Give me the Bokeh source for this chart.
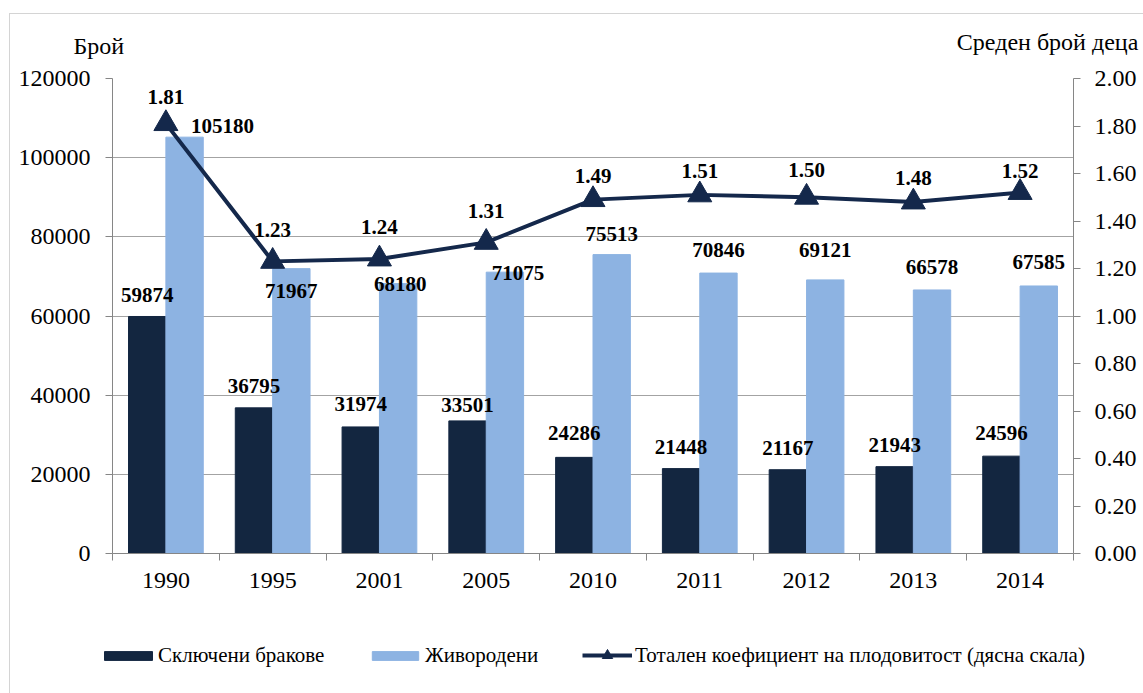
from bokeh.plotting import figure
from bokeh.layouts import column
from bokeh.models import (Range1d, LinearAxis, FixedTicker, ColumnDataSource, Legend,
                          LegendItem, Label, NumeralTickFormatter)
from bokeh.core.properties import value
from bokeh.embed import file_html
from bokeh.resources import INLINE

# ---------------- data ----------------
years = ["1990", "1995", "2001", "2005", "2010", "2011", "2012", "2013", "2014"]
marriages = [59874, 36795, 31974, 33501, 24286, 21448, 21167, 21943, 24596]
births = [105180, 71967, 68180, 71075, 75513, 70846, 69121, 66578, 67585]
tfr = [1.81, 1.23, 1.24, 1.31, 1.49, 1.51, 1.50, 1.48, 1.52]

left_ticks = [0, 20000, 40000, 60000, 80000, 100000, 120000]
right_ticks = [0.0, 0.2, 0.4, 0.6, 0.8, 1.0, 1.2, 1.4, 1.6, 1.8, 2.0]

series_names = ["Сключени бракове", "Живородени",
                "Тотален коефициент на плодовитост (дясна скала)"]

# ---------------- label placement (screen px) ----------------
marr_dy = [-14, -15, -16, -9, -17, -15, -15, -15, -16]
birth_dx = [38, 0, 2, 13, 0, 0, 0, 0, 0]
birth_dy = [-4, 29, 7, 8, -14, -16, -23, -16, -17]
tfr_dy = [-20, -24, -25, -24, -17, -17, -20, -17, -15]
SHIFT = -7

FONT = value("Liberation Serif")
DARK = "#132640"
LIGHT = "#8db3e2"
LINE = "#14284b"
AXIS = "#868686"
GRID = "#a3a3a3"

n = len(years)
centers = [i + 0.5 for i in range(n)]
bw = 0.35
dark_x = [c - bw / 2 for c in centers]
light_x = [c + bw / 2 for c in centers]

src = ColumnDataSource(dict(
    c=centers, dx=dark_x, lx=light_x,
    marriages=marriages, births=births, tfr=tfr,
    marr_txt=[str(v) for v in marriages],
    birth_txt=[str(v) for v in births],
    tfr_txt=["%.2f" % v for v in tfr],
    marr_dy=[d + SHIFT for d in marr_dy],
    birth_dx=birth_dx,
    birth_dy=[d + SHIFT for d in birth_dy],
    tfr_dy=[d + SHIFT for d in tfr_dy],
))

p = figure(width=1133, height=599, x_range=Range1d(0, n), y_range=Range1d(0, 120000),
           output_backend="svg", toolbar_location=None,
           min_border_left=102, min_border_right=70, min_border_top=64, min_border_bottom=60)
p.outline_line_color = None
p.background_fill_color = "white"
p.border_fill_color = "white"

p.extra_y_ranges = {"tfr": Range1d(0, 2.0)}

# x axis
xa = p.xaxis[0]
xa.ticker = FixedTicker(ticks=centers, minor_ticks=list(range(n + 1)))
xa.major_label_overrides = {c: y for c, y in zip(centers, years)}
xa.major_tick_out = 0
xa.major_tick_in = 0
xa.minor_tick_out = 7
xa.minor_tick_in = 0
xa.minor_tick_line_color = AXIS
xa.axis_line_color = AXIS
xa.major_label_text_font = "Liberation Serif"
xa.major_label_text_font_size = "24px"
xa.major_label_text_color = "black"
xa.major_label_standoff = 12

# left y axis
ya = p.yaxis[0]
ya.ticker = FixedTicker(ticks=left_ticks, minor_ticks=[])
ya.formatter = NumeralTickFormatter(format="0")
ya.major_tick_out = 7
ya.major_tick_in = 0
ya.minor_tick_out = 0
ya.minor_tick_in = 0
ya.major_tick_line_color = AXIS
ya.axis_line_color = AXIS
ya.major_label_text_font = "Liberation Serif"
ya.major_label_text_font_size = "24px"
ya.major_label_text_color = "black"
ya.major_label_standoff = 15

# right y axis
ra = LinearAxis(y_range_name="tfr", ticker=FixedTicker(ticks=right_ticks, minor_ticks=[]),
                formatter=NumeralTickFormatter(format="0.00"))
ra.major_tick_out = 7
ra.major_tick_in = 0
ra.minor_tick_out = 0
ra.minor_tick_in = 0
ra.major_tick_line_color = AXIS
ra.axis_line_color = AXIS
ra.major_label_text_font = "Liberation Serif"
ra.major_label_text_font_size = "24px"
ra.major_label_text_color = "black"
ra.major_label_standoff = 14
p.add_layout(ra, "right")

p.xgrid.visible = False
p.ygrid.ticker = FixedTicker(ticks=left_ticks, minor_ticks=[])
p.ygrid.grid_line_color = GRID
p.ygrid.grid_line_width = 1

# bars
p.vbar(x="dx", top="marriages", width=bw, source=src, fill_color=DARK, line_color=DARK)
p.vbar(x="lx", top="births", width=bw, source=src, fill_color=LIGHT, line_color=LIGHT)

# line
p.line(x="c", y="tfr", source=src, y_range_name="tfr", line_color=LINE, line_width=4)
p.scatter(x="c", y="tfr", source=src, y_range_name="tfr", marker="triangle",
          size=24, fill_color=LINE, line_color=LINE)

# data labels
common = dict(source=src, text_font=FONT, text_font_style="bold", text_font_size="21px",
              text_color="black", text_align="center", text_baseline="alphabetic")
p.text(x="dx", y="marriages", text="marr_txt", y_offset="marr_dy", **common)
p.text(x="lx", y="births", text="birth_txt", x_offset="birth_dx", y_offset="birth_dy", **common)
p.text(x="c", y="tfr", text="tfr_txt", y_offset="tfr_dy", y_range_name="tfr", **common)

# axis titles (in the panel above the plot area, so they are not clipped)
p.add_layout(Label(x=-0.365, y=128100, text="Брой", text_font="Liberation Serif",
                   text_font_size="24px", text_color="black", text_baseline="alphabetic"), "above")
p.add_layout(Label(x=9.607, y=129100, text="Среден брой деца", text_font="Liberation Serif",
                   text_font_size="24px", text_color="black", text_align="right",
                   text_baseline="alphabetic"), "above")

# ---------------- legend strip ----------------
# same series are drawn here outside the visible range; only their legend swatches show
lf = figure(width=1133, height=80, output_backend="svg", toolbar_location=None,
            x_axis_location=None, y_axis_location=None, min_border=0,
            x_range=Range1d(-3, -2), y_range=Range1d(0, 120000))
lf.frame_align = False
lf.outline_line_color = None
lf.grid.visible = False
lf.background_fill_color = "white"
lf.border_fill_color = "white"

g_m = lf.vbar(x="dx", top="marriages", width=bw, source=src, fill_color=DARK, line_color=DARK)
g_b = lf.vbar(x="lx", top="births", width=bw, source=src, fill_color=LIGHT, line_color=LIGHT)
g_l = lf.line(x="c", y="tfr", source=src, line_color=LINE, line_width=4)
g_s = lf.scatter(x="c", y="tfr", source=src, marker="triangle", fill_color=LINE, line_color=LINE)


def add_legend(label, renderers, loc, gw, gh, standoff):
    lg = Legend(items=[LegendItem(label=label, renderers=renderers)], location=loc,
                orientation="horizontal", glyph_width=gw, glyph_height=gh,
                label_height=26, label_standoff=standoff, padding=0, margin=0, spacing=0,
                border_line_color=None, background_fill_alpha=0,
                label_text_font="Liberation Serif", label_text_font_size="21px",
                label_text_color="black", label_text_baseline="middle")
    lf.add_layout(lg)


add_legend(series_names[0], [g_m], (88, 25), 60, 11, 0)
add_legend(series_names[1], [g_b], (356, 25), 58, 11, 1)
add_legend(series_names[2], [g_l, g_s], (572, 25), 50, 26, 3)

layout = column(p, lf, spacing=0)
layout.margin = (13, 0, 0, 9)
layout.styles = {"border-left": "1px solid #d4d4d4", "border-top": "1px solid #d4d4d4"}

open("out.html", "w").write(file_html(layout, INLINE))
